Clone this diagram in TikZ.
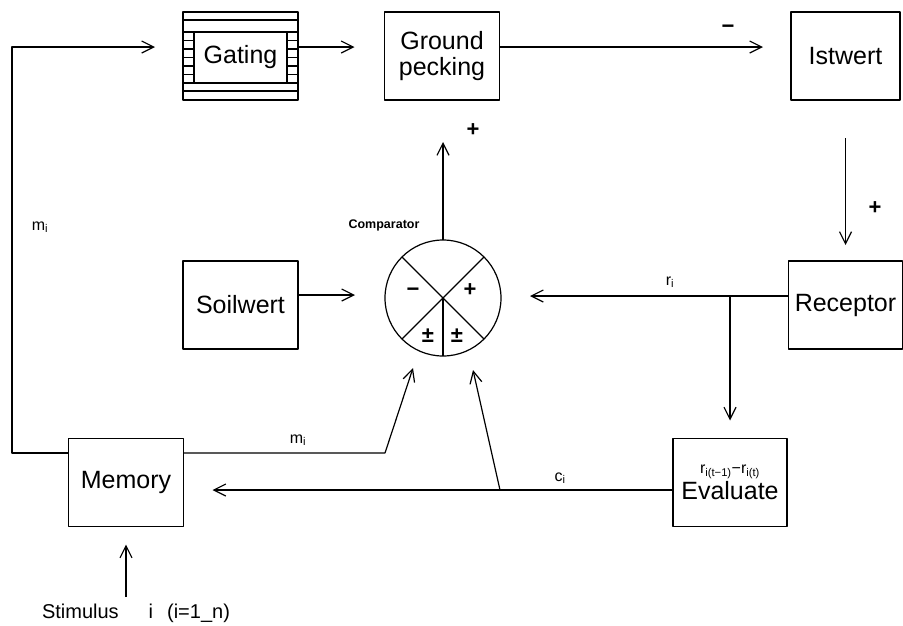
\documentclass[tikz,border=0pt]{standalone}
\usepackage{fontspec}
\setmainfont{Liberation Sans}
\usetikzlibrary{arrows.meta}

\begin{document}
\begin{tikzpicture}[x=1pt,y=-1pt,>={Straight Barb[length=12pt,width=12pt,line width=1.2pt]},line join=round,
  ln/.style={line width=1.2pt},
  box/.style={draw,ln,minimum width=115pt,minimum height=88pt,inner sep=0pt,outer sep=0pt,align=center,font=\fontsize{25}{26}\selectfont},
  lbl/.style={font=\fontsize{16}{17}\selectfont},
  sgn/.style={font=\bfseries\fontsize{22}{22}\selectfont}]
  \useasboundingbox (0,0) rectangle (903,625);
  \node[box] (gating) at (240.5,56) {};
  \node[draw,ln,minimum width=93pt,minimum height=51pt,inner sep=0pt,font=\fontsize{25}{26}\selectfont] (gatingin) at (240.5,57.5) {Gating};
  \draw[ln] (183,20) -- (298,20);
  \draw[ln] (183,91) -- (298,91);
  \foreach \y in {32,40.5,49,57.5,66,74.5,83} {
    \draw[ln] (183,\y) -- (194,\y);
    \draw[ln] (287,\y) -- (298,\y);
  }
  \node[box] (ground) at (442,56) {Ground\\pecking};
  \node[box,minimum width=109pt] (istwert) at (845.5,56) {Istwert};
  \node[box,minimum width=114pt] (receptor) at (845.5,305) {Receptor};
  \node[box] (soilwert) at (240.5,305) {Soilwert};
  \node[box] (memory) at (126,482.5) {Memory};
  \node[box,minimum width=114pt] (evaluate) at (730,482.5) {{\fontsize{16}{18}\selectfont r\textsubscript{i(t−1)}−r\textsubscript{i(t)}}\\Evaluate};
  \node[circle,draw,ln,minimum size=116pt,inner sep=0pt,outer sep=0pt] (comp) at (443,298) {};
  \draw[ln] (comp.135) -- (comp.-45);
  \draw[ln] (comp.45) -- (comp.-135);
  \draw[ln] (comp.center) -- (comp.south);
  \node[sgn] (cminus) at (413,292) {−};
  \node[sgn] (cplus) at (470,290) {+};
  \node[sgn] (cpm1) at (428,336) {±};
  \node[sgn] (cpm2) at (457,336) {±};
  \node[font=\bfseries\fontsize{12.5}{14}\selectfont] (complbl) at (384,225) {Comparator};
  \coordinate (fbl) at (12,47);
  \draw[ln,->,shorten >=28pt] ([yshift=29.5pt]memory.west) -| (fbl) -- (fbl-|gating.west);
  \node[lbl] (mileft) at (40,227) {m\textsubscript{i}};
  \draw[ln,->,shorten >=30pt] ([yshift=9pt]gating.east) -- ([yshift=9pt]ground.west);
  \draw[ln,->,shorten >=28pt] ([yshift=9pt]ground.east) -- ([yshift=9pt]istwert.west);
  \node[sgn] (gminus) at (728,29) {−};
  \draw[ln,->,shorten <=38pt,shorten >=16pt] (istwert.south) -- (receptor.north);
  \node[sgn] (rplus) at (875,208) {+};
  \coordinate (br) at (730,296);
  \draw[ln,->,shorten >=29pt] ([yshift=9pt]receptor.west) -- (comp.east|-br);
  \draw[ln,->,shorten >=18pt] (br) -- (evaluate.north);
  \node[lbl] (ri) at (670,282) {r\textsubscript{i}};
  \draw[ln,->,shorten >=30pt] ([yshift=10pt]soilwert.east) -- ([yshift=10pt]soilwert.east-|comp.west);
  \draw[ln,->,shorten >=42pt] (comp.north) -- (comp.north|-ground.south);
  \node[sgn] (gplus) at (473,130) {+};
  \coordinate (mk) at (385,453);
  \coordinate (mtip) at (413,368);
  \draw[ln,->] ([yshift=29.5pt]memory.east) -- (mk) -- (mtip);
  \node[lbl] (miright) at (298,440) {m\textsubscript{i}};
  \draw[ln,->,shorten >=29pt] ([yshift=-7.5pt]evaluate.west) -- ([yshift=-7.5pt]memory.east);
  \coordinate (bc) at (500,490);
  \coordinate (ctip) at (473,370);
  \draw[ln,->] (bc) -- (ctip);
  \node[lbl] (ci) at (560,478) {c\textsubscript{i}};
  \node[font=\fontsize{20}{22}\selectfont] (stim) at (136,613) {Stimulus\hspace{30pt}i\hspace{14pt}(i=1\_n)};
  \draw[ln,->,shorten <=3pt,shorten >=18pt] (stim.north-|memory.south) -- (memory.south);
\end{tikzpicture}
\end{document}
